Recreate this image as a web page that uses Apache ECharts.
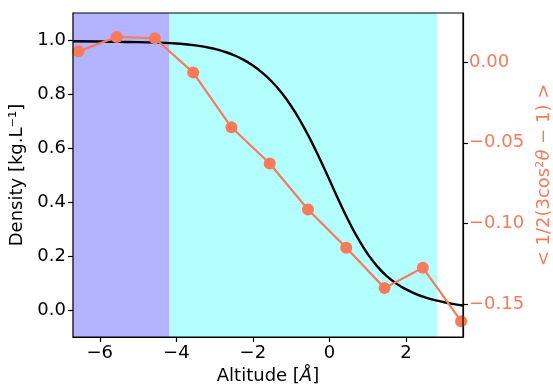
<!DOCTYPE html>
<html><head><meta charset="utf-8">
<script src="https://cdn.jsdelivr.net/npm/echarts@6/dist/echarts.min.js"></script>
<style>html,body{margin:0;padding:0;background:#fff;overflow:hidden}#c{width:553px;height:385px}</style>
</head><body><div id="c"></div>
<script>
// Density profile (left axis)
const densityX = [-6.7, -6.0, -5.5, -5.0, -4.5, -4.0, -3.5, -3.0, -2.75, -2.5, -2.25, -2.0, -1.75, -1.5, -1.25, -1.0, -0.75, -0.5, -0.25, 0.0, 0.25, 0.5, 0.75, 1.0, 1.25, 1.5, 1.75, 2.0, 2.25, 2.5, 2.75, 3.0, 3.25, 3.49];
const densityY = [0.997, 0.996, 0.995, 0.994, 0.992, 0.989, 0.982, 0.969, 0.959, 0.946, 0.929, 0.907, 0.880, 0.847, 0.806, 0.757, 0.699, 0.633, 0.560, 0.483, 0.405, 0.331, 0.265, 0.208, 0.162, 0.126, 0.098, 0.077, 0.060, 0.047, 0.037, 0.029, 0.022, 0.017];
// Order parameter (right axis)
const orderX = [-6.56, -5.56, -4.56, -3.56, -2.56, -1.56, -0.56, 0.44, 1.44, 2.44, 3.44];
const orderY = [0.0065, 0.0154, 0.0146, -0.0066, -0.0404, -0.0628, -0.0912, -0.1148, -0.1398, -0.1272, -0.1602];
// Shaded regions
const spanBlue = [-6.7, -4.18];
const spanCyan = [-4.18, 2.81];
// Axes
const xRange = [-6.7, 3.49];
const leftRange = [-0.1, 1.102];
const rightRange = [-0.170, 0.0302];
const xTicks = [-6, -4, -2, 0, 2];
const leftTicks = [0, 0.2, 0.4, 0.6, 0.8, 1.0];
const rightTicks = [0, -0.05, -0.10, -0.15];

const ORANGE = '#F97A58';
const FONT = 'DejaVu Sans';
const fmt = (v, d) => (v < -1e-9 ? '\u2212' : '') + Math.abs(v).toFixed(d);
const zip = (a, b) => a.map((x, i) => [x, b[i]]);

const chart = echarts.init(document.getElementById('c'), null, {renderer: 'canvas'});
chart.setOption({
  animation: false,
  textStyle: {fontFamily: FONT},
  grid: {left: 73, right: 90, top: 13, bottom: 48, containLabel: false, outerBoundsMode: 'none',
         show: true, borderColor: '#000', borderWidth: 1.2, backgroundColor: 'transparent', z: 10},
  xAxis: {
    type: 'value', min: xRange[0], max: xRange[1],
    name: '{n|Altitude [}{i|Å}{n|]}', nameLocation: 'middle', nameGap: 27,
    nameTextStyle: {rich: {n: {fontSize: 18, fontFamily: FONT, color: '#000'}, i: {fontSize: 18, fontFamily: FONT, fontStyle: 'italic', color: '#000'}}},
    axisLine: {show: true, onZero: false, lineStyle: {color: '#000', width: 1.2}},
    axisTick: {show: true, length: 5, lineStyle: {color: '#000', width: 1.2}, customValues: xTicks},
    axisLabel: {fontSize: 18, color: '#000', margin: 7, fontFamily: FONT, customValues: xTicks, formatter: v => fmt(v, 0)},
    splitLine: {show: false}
  },
  yAxis: [{
    type: 'value', min: leftRange[0], max: leftRange[1], position: 'left',
    name: 'Density [kg.L\u207B\u00B9]', nameLocation: 'middle', nameGap: 44, nameRotate: 90,
    nameTextStyle: {fontSize: 18, color: '#000', fontFamily: FONT},
    axisLine: {show: true, onZero: false, lineStyle: {color: '#000', width: 1.2}},
    axisTick: {show: true, length: 5, lineStyle: {color: '#000', width: 1.2}, customValues: leftTicks},
    axisLabel: {fontSize: 18, color: '#000', margin: 7, fontFamily: FONT, customValues: leftTicks, formatter: v => fmt(v, 1)},
    splitLine: {show: false}
  }, {
    type: 'value', min: rightRange[0], max: rightRange[1], position: 'right',
    name: '< 1/2(3cos\u00B2{i|θ} \u2212 1) >', nameLocation: 'middle', nameGap: 70, nameRotate: 90,
    nameTextStyle: {fontSize: 18, color: ORANGE, fontFamily: FONT, rich: {i: {fontSize: 18, color: ORANGE, fontFamily: FONT, fontStyle: 'italic'}}},
    axisLine: {show: true, onZero: false, lineStyle: {color: '#000', width: 1.2}},
    axisTick: {show: true, length: 5, lineStyle: {color: '#000', width: 1.2}, customValues: rightTicks},
    axisLabel: {fontSize: 18, color: ORANGE, margin: 6, fontFamily: FONT, customValues: rightTicks, formatter: v => fmt(v, 2)},
    splitLine: {show: false}
  }],
  series: [{
    type: 'line', xAxisIndex: 0, yAxisIndex: 0, data: zip(densityX, densityY),
    smooth: 0.5, showSymbol: false, symbol: 'none', z: 3,
    lineStyle: {color: '#000', width: 2.4},
    markArea: {silent: true, z: 1, data: [
      [{xAxis: spanBlue[0], itemStyle: {color: '#B3B3FF', opacity: 1}}, {xAxis: spanBlue[1]}],
      [{xAxis: spanCyan[0], itemStyle: {color: '#B3FFFF', opacity: 1}}, {xAxis: spanCyan[1]}]
    ]}
  }, {
    type: 'line', xAxisIndex: 0, yAxisIndex: 1, data: zip(orderX, orderY),
    symbol: 'circle', symbolSize: 12, showAllSymbol: true, z: 5, clip: true,
    lineStyle: {color: ORANGE, width: 2.2},
    itemStyle: {color: ORANGE, borderWidth: 0}
  }]
});
</script></body></html>
